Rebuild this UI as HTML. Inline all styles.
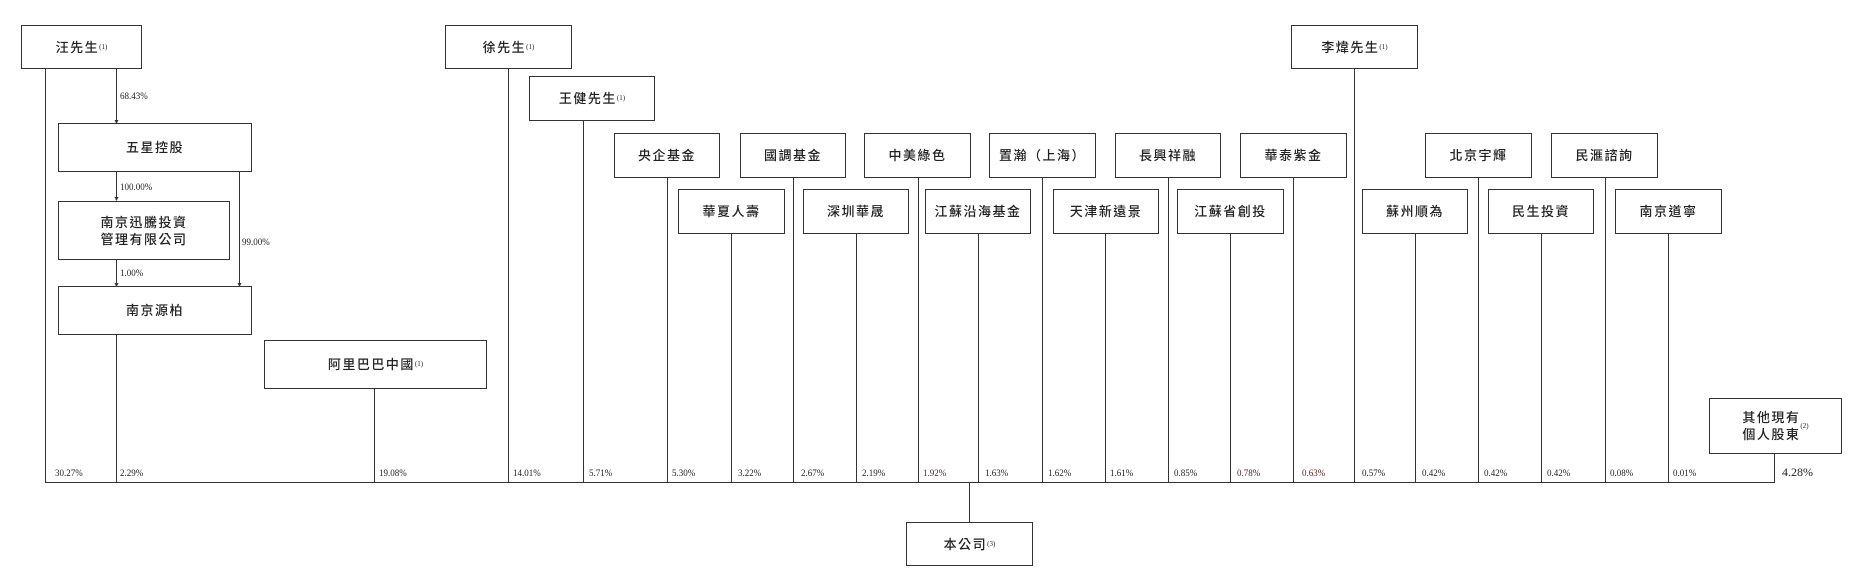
<!DOCTYPE html>
<html><head><meta charset="utf-8"><style>
body{margin:0;width:1854px;height:576px;background:#fff;position:relative;overflow:hidden;font-family:"Liberation Sans","Noto Sans CJK TC",sans-serif}
.b{position:absolute;box-sizing:border-box;border:1.5px solid #333;background:#fff;display:flex;align-items:center;justify-content:center;text-align:center;font-size:13px;letter-spacing:1.5px;color:#222;line-height:17px;font-weight:500}
.b sup{font-family:"Liberation Serif",serif;font-size:7px;letter-spacing:0;vertical-align:6px}
.p{position:absolute;font-family:"Liberation Serif",serif;font-size:9px;color:#222;line-height:10px;transform:translateY(-5px)}
svg{position:absolute;left:0;top:0}
</style></head><body>
<svg width="1854" height="576" stroke="#333" stroke-width="1" fill="none">
<line x1="45.5" y1="69" x2="45.5" y2="482"/>
<line x1="116.5" y1="69" x2="116.5" y2="123"/>
<line x1="116.5" y1="171" x2="116.5" y2="200"/>
<line x1="116.5" y1="259" x2="116.5" y2="286"/>
<line x1="239.5" y1="171" x2="239.5" y2="286"/>
<line x1="116.5" y1="335" x2="116.5" y2="482"/>
<line x1="374.5" y1="388" x2="374.5" y2="482"/>
<line x1="508.5" y1="69" x2="508.5" y2="482"/>
<line x1="583.5" y1="121" x2="583.5" y2="482"/>
<line x1="667.5" y1="178" x2="667.5" y2="482"/>
<line x1="731.5" y1="233" x2="731.5" y2="482"/>
<line x1="793.5" y1="178" x2="793.5" y2="482"/>
<line x1="856.5" y1="233" x2="856.5" y2="482"/>
<line x1="918.5" y1="178" x2="918.5" y2="482"/>
<line x1="978.5" y1="233" x2="978.5" y2="482"/>
<line x1="1042.5" y1="178" x2="1042.5" y2="482"/>
<line x1="1105.5" y1="233" x2="1105.5" y2="482"/>
<line x1="1168.5" y1="178" x2="1168.5" y2="482"/>
<line x1="1230.5" y1="233" x2="1230.5" y2="482"/>
<line x1="1293.5" y1="178" x2="1293.5" y2="482"/>
<line x1="1354.5" y1="69" x2="1354.5" y2="482"/>
<line x1="1415.5" y1="233" x2="1415.5" y2="482"/>
<line x1="1478.5" y1="178" x2="1478.5" y2="482"/>
<line x1="1541.5" y1="233" x2="1541.5" y2="482"/>
<line x1="1605.5" y1="178" x2="1605.5" y2="482"/>
<line x1="1668.5" y1="233" x2="1668.5" y2="482"/>
<line x1="1774.5" y1="454" x2="1774.5" y2="482.5"/>
<line x1="45" y1="482.5" x2="1775" y2="482.5"/>
<line x1="969.5" y1="482" x2="969.5" y2="522"/>
<g fill="#333" stroke="none">
<polygon points="114.5,120 118.5,120 116.5,124"/>
<polygon points="114.5,197 118.5,197 116.5,201"/>
<polygon points="114.5,283 118.5,283 116.5,287"/>
<polygon points="237.5,283 241.5,283 239.5,287"/>
</g>
</svg>
<div class="b" style="left:21px;top:25px;width:121px;height:44px">汪先生<sup>(1)</sup></div>
<div class="b" style="left:58px;top:123px;width:194px;height:49px">五星控股</div>
<div class="b" style="left:58px;top:201px;width:172px;height:59px">南京迅騰投資<br>管理有限公司</div>
<div class="b" style="left:58px;top:286px;width:194px;height:49px">南京源柏</div>
<div class="b" style="left:264px;top:340px;width:223px;height:49px">阿里巴巴中國<sup>(1)</sup></div>
<div class="b" style="left:445px;top:25px;width:127px;height:44px">徐先生<sup>(1)</sup></div>
<div class="b" style="left:529px;top:76px;width:126px;height:45px">王健先生<sup>(1)</sup></div>
<div class="b" style="left:614px;top:133px;width:106px;height:45px">央企基金</div>
<div class="b" style="left:740px;top:133px;width:106px;height:45px">國調基金</div>
<div class="b" style="left:864px;top:133px;width:107px;height:45px">中美綠色</div>
<div class="b" style="left:989px;top:133px;width:107px;height:45px">置瀚（上海）</div>
<div class="b" style="left:1115px;top:133px;width:106px;height:45px">長興祥融</div>
<div class="b" style="left:1240px;top:133px;width:107px;height:45px">華泰紫金</div>
<div class="b" style="left:1425px;top:133px;width:107px;height:45px">北京宇輝</div>
<div class="b" style="left:1551px;top:133px;width:107px;height:45px">民滙諮詢</div>
<div class="b" style="left:678px;top:189px;width:107px;height:45px">華夏人壽</div>
<div class="b" style="left:803px;top:189px;width:106px;height:45px">深圳華晟</div>
<div class="b" style="left:925px;top:189px;width:106px;height:45px">江蘇沿海基金</div>
<div class="b" style="left:1053px;top:189px;width:106px;height:45px">天津新遠景</div>
<div class="b" style="left:1177px;top:189px;width:107px;height:45px">江蘇省創投</div>
<div class="b" style="left:1362px;top:189px;width:106px;height:45px">蘇州順為</div>
<div class="b" style="left:1488px;top:189px;width:106px;height:45px">民生投資</div>
<div class="b" style="left:1615px;top:189px;width:107px;height:45px">南京道寧</div>
<div class="b" style="left:1291px;top:25px;width:127px;height:44px">李煒先生<sup>(1)</sup></div>
<div class="b" style="left:1709px;top:398px;width:133px;height:56px">其他現有<br>個人股東<sup>(2)</sup></div>
<div class="b" style="left:906px;top:522px;width:127px;height:44px">本公司<sup>(3)</sup></div>
<div class="p" style="left:120px;top:96px">68.43%</div>
<div class="p" style="left:120px;top:187px">100.00%</div>
<div class="p" style="left:242px;top:242px">99.00%</div>
<div class="p" style="left:120px;top:273px">1.00%</div>
<div class="p" style="left:55px;top:473px">30.27%</div>
<div class="p" style="left:120px;top:473px">2.29%</div>
<div class="p" style="left:379px;top:473px">19.08%</div>
<div class="p" style="left:513px;top:473px">14.01%</div>
<div class="p" style="left:589px;top:473px">5.71%</div>
<div class="p" style="left:672px;top:473px">5.30%</div>
<div class="p" style="left:738px;top:473px">3.22%</div>
<div class="p" style="left:801px;top:473px">2.67%</div>
<div class="p" style="left:862px;top:473px">2.19%</div>
<div class="p" style="left:923px;top:473px;color:#5a2020">1.92%</div>
<div class="p" style="left:985px;top:473px">1.63%</div>
<div class="p" style="left:1048px;top:473px">1.62%</div>
<div class="p" style="left:1110px;top:473px">1.61%</div>
<div class="p" style="left:1174px;top:473px">0.85%</div>
<div class="p" style="left:1237px;top:473px;color:#5a2020">0.78%</div>
<div class="p" style="left:1302px;top:473px;color:#5a2020">0.63%</div>
<div class="p" style="left:1362px;top:473px">0.57%</div>
<div class="p" style="left:1422px;top:473px">0.42%</div>
<div class="p" style="left:1484px;top:473px">0.42%</div>
<div class="p" style="left:1547px;top:473px">0.42%</div>
<div class="p" style="left:1610px;top:473px">0.08%</div>
<div class="p" style="left:1673px;top:473px">0.01%</div>
<div class="p" style="left:1782px;top:471px;font-size:12px;line-height:12px">4.28%</div>
</body></html>
